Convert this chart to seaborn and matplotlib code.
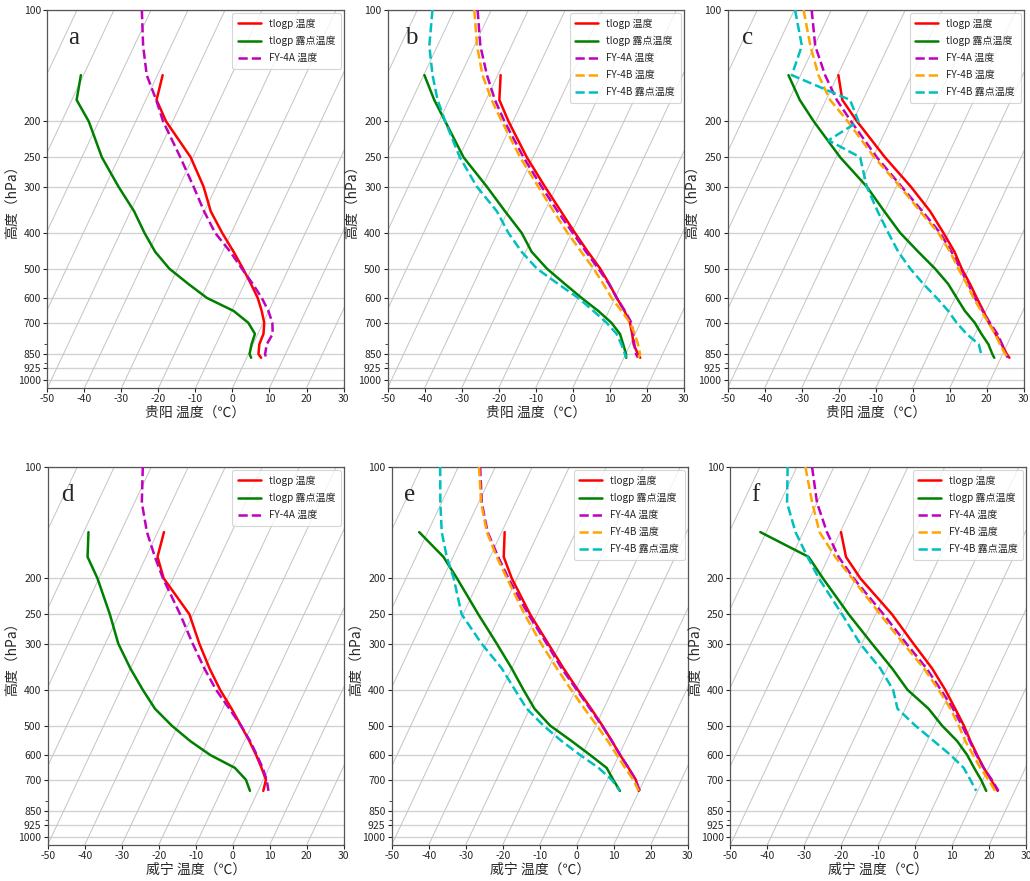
import numpy as np
import pandas as pd
import matplotlib
matplotlib.use("Agg")
import matplotlib.pyplot as plt
import matplotlib.transforms as mtransforms
from matplotlib.ticker import FixedLocator, NullFormatter
import seaborn as sns

# Pressure levels (hPa)
p_gy = [150, 175, 200, 250, 300, 350, 400, 450, 500, 550, 600, 650, 700, 750, 800, 850, 870]
p_gy_fy = [100, 125, 150, 175, 200, 250, 300, 350, 400, 450, 500, 550, 600, 650, 700, 750, 800, 850, 870]
p_c_td = [100, 125, 150, 175, 200, 225, 250, 300, 350, 400, 450, 500, 550, 600, 650, 700, 750, 800, 850]
p_wn = [150, 175, 200, 250, 300, 350, 400, 450, 500, 550, 600, 650, 700, 750]
p_wn_fy = [100, 125, 150, 175, 200, 250, 300, 350, 400, 450, 500, 550, 600, 650, 700, 750]

# Panel a (贵阳)
a_t = [-58.6, -57.1, -51.8, -40.6, -33.4, -28.3, -22.5, -17.0, -12.3, -8.2, -4.6, -1.9, 0.3, 1.5, 1.7, 2.7, 3.9]
a_td = [-80.7, -78.7, -72.7, -64.6, -56.4, -49.0, -43.5, -38.2, -32.2, -25.1, -18.3, -9.5, -4.0, -0.8, -0.4, 0.3, 1.2]
a_4a_t = [-72.5, -67.6, -62.9, -57.2, -52.6, -43.4, -36.1, -30.1, -24.4, -17.9, -12.6, -7.7, -3.5, -0.1, 2.5, 4.0, 3.7, 4.5, 5.2]

# Panel b (贵阳)
b_t = [-59.2, -56.4, -51.2, -41.7, -33.1, -25.6, -19.1, -13.2, -7.7, -3.3, 0.5, 4.2, 7.2, 9.2, 10.9, 13.3, 14.4]
b_td = [-79.8, -74.0, -68.3, -58.8, -48.8, -40.7, -33.5, -28.4, -22.1, -15.3, -9.0, -2.9, 2.2, 5.9, 8.1, 10.1, 10.6]
b_4a_t = [-73.7, -68.4, -62.9, -57.6, -52.3, -42.6, -34.0, -26.5, -19.7, -13.7, -8.2, -3.4, 0.5, 4.3, 7.6, 9.5, 11.1, 12.8, 13.8]
b_4b_t = [-74.6, -69.3, -64.1, -58.5, -53.0, -43.5, -34.9, -27.6, -21.1, -15.0, -9.5, -4.9, -0.9, 3.4, 7.2, 9.9, 12.1, 13.9, 13.9]
b_4b_td = [-85.9, -82.2, -77.6, -73.1, -68.3, -59.8, -51.5, -42.9, -37.1, -31.1, -24.8, -17.1, -9.9, -4.2, 0.9, 5.0, 7.6, 9.8, 10.6]

# Panel c (贵阳)
c_t = [-59.8, -55.6, -48.9, -36.8, -26.1, -17.7, -11.4, -6.0, -1.9, 2.3, 5.9, 9.3, 12.3, 15.5, 18.5, 21.1, 22.3]
c_td = [-73.3, -67.1, -60.6, -48.9, -38.0, -30.1, -23.1, -15.8, -9.1, -3.6, 0.5, 4.3, 8.5, 11.7, 14.9, 17.2, 18.2]
c_4a_t = [-75.3, -69.8, -63.4, -57.1, -50.5, -39.0, -28.6, -19.8, -12.3, -6.8, -2.3, 1.8, 5.4, 9.1, 12.6, 16.0, 18.6, 20.9, 21.9]
c_4b_t = [-77.5, -71.1, -65.2, -58.9, -51.4, -39.7, -29.0, -20.4, -12.8, -7.2, -2.8, 1.4, 5.0, 8.7, 12.2, 15.4, 18.0, 20.7, 21.9]
c_4b_td = [-79.8, -73.4, -72.4, -53.5, -48.5, -54.2, -43.5, -38.0, -31.9, -26.3, -21.2, -15.8, -10.3, -4.9, -0.2, 3.6, 7.7, 12.3, 14.2]

# Panel d (威宁)
d_t = [-58.3, -56.9, -52.5, -41.0, -34.6, -28.7, -23.1, -17.6, -12.9, -8.7, -5.1, -2.0, 0.7, 1.4]
d_td = [-78.7, -75.8, -70.4, -62.5, -56.5, -50.1, -44.0, -38.3, -31.6, -24.7, -17.5, -9.2, -4.7, -2.2]
d_4a_t = [-72.3, -68.0, -62.9, -57.6, -52.7, -43.5, -36.4, -30.1, -24.2, -18.2, -12.9, -8.5, -4.9, -1.7, 0.9, 2.8]

# Panel e (威宁)
e_t = [-59.2, -56.3, -51.4, -41.9, -33.3, -26.0, -19.4, -13.4, -8.2, -3.7, 0.3, 4.2, 7.7, 9.9]
e_td = [-82.3, -72.6, -66.2, -55.9, -47.2, -40.0, -34.1, -28.7, -22.3, -14.6, -7.8, -1.7, 1.6, 4.8]
e_4a_t = [-74.1, -69.1, -63.8, -57.8, -52.3, -42.4, -33.7, -26.5, -19.7, -13.7, -8.3, -3.7, 0.3, 4.2, 7.6, 10.2]
e_4b_t = [-74.4, -69.3, -64.0, -58.2, -52.7, -43.4, -35.2, -27.8, -21.2, -15.2, -9.7, -4.8, -0.6, 3.3, 7.0, 9.9]
e_4b_td = [-84.9, -80.3, -76.2, -71.7, -67.1, -60.4, -51.3, -42.7, -36.4, -30.8, -24.1, -17.3, -10.5, -3.9, 1.2, 4.8]

# Panel f (威宁)
f_t = [-59.8, -55.3, -48.7, -35.6, -26.1, -17.9, -11.6, -6.5, -2.0, 1.7, 5.3, 8.7, 12.2, 15.4]
f_td = [-81.6, -65.4, -58.8, -47.3, -37.3, -28.7, -21.8, -13.7, -7.9, -1.9, 2.6, 6.1, 9.5, 12.3]
f_4a_t = [-75.9, -70.0, -63.6, -57.3, -50.5, -37.9, -28.0, -19.4, -12.8, -7.1, -2.5, 1.5, 5.1, 8.7, 12.4, 15.6]
f_4b_t = [-77.7, -71.3, -65.6, -58.2, -50.9, -38.8, -28.8, -20.1, -13.4, -7.8, -3.4, 0.3, 4.2, 7.8, 11.5, 14.7]
f_4b_td = [-82.5, -78.1, -72.1, -65.7, -59.9, -49.1, -40.5, -31.9, -25.7, -22.1, -15.1, -8.2, -1.9, 3.3, 6.6, 9.6]

yticks = [100, 200, 250, 300, 400, 500, 600, 700, 850, 925, 1000]
xticks = [-50, -40, -30, -20, -10, 0, 10, 20, 30]
isotherms = list(range(-100, 40, 10))

SKEW = 0.6  # isotherm shift over the full height, in axes widths

sns.set_style("white")
plt.rcParams["font.family"] = ["Noto Sans CJK SC", "DejaVu Sans"]
plt.rcParams["axes.unicode_minus"] = False

series_style = {
    "tlogp 温度": dict(color="red", linestyle="-"),
    "tlogp 露点温度": dict(color="green", linestyle="-"),
    "FY-4A 温度": dict(color="m", linestyle="--"),
    "FY-4B 温度": dict(color="orange", linestyle="--"),
    "FY-4B 露点温度": dict(color="c", linestyle="--"),
}

panels = [
    ("a", "贵阳", [("tlogp 温度", p_gy, a_t), ("tlogp 露点温度", p_gy, a_td), ("FY-4A 温度", p_gy_fy, a_4a_t)], 0.07),
    ("b", "贵阳", [("tlogp 温度", p_gy, b_t), ("tlogp 露点温度", p_gy, b_td), ("FY-4A 温度", p_gy_fy, b_4a_t),
                   ("FY-4B 温度", p_gy_fy, b_4b_t), ("FY-4B 露点温度", p_gy_fy, b_4b_td)], 0.06),
    ("c", "贵阳", [("tlogp 温度", p_gy, c_t), ("tlogp 露点温度", p_gy, c_td), ("FY-4A 温度", p_gy_fy, c_4a_t),
                   ("FY-4B 温度", p_gy_fy, c_4b_t), ("FY-4B 露点温度", p_c_td, c_4b_td)], 0.05),
    ("d", "威宁", [("tlogp 温度", p_wn, d_t), ("tlogp 露点温度", p_wn, d_td), ("FY-4A 温度", p_wn_fy, d_4a_t)], 0.045),
    ("e", "威宁", [("tlogp 温度", p_wn, e_t), ("tlogp 露点温度", p_wn, e_td), ("FY-4A 温度", p_wn_fy, e_4a_t),
                   ("FY-4B 温度", p_wn_fy, e_4b_t), ("FY-4B 露点温度", p_wn_fy, e_4b_td)], 0.04),
    ("f", "威宁", [("tlogp 温度", p_wn, f_t), ("tlogp 露点温度", p_wn, f_td), ("FY-4A 温度", p_wn_fy, f_4a_t),
                   ("FY-4B 温度", p_wn_fy, f_4b_t), ("FY-4B 露点温度", p_wn_fy, f_4b_td)], 0.07),
]

# axes positions in figure fraction
positions = [
    [0.0461, 0.5596, 0.2874, 0.4291],
    [0.3764, 0.5596, 0.2874, 0.4291],
    [0.7065, 0.5596, 0.2874, 0.4291],
    [0.0463, 0.0409, 0.2874, 0.4291],
    [0.3803, 0.0409, 0.2874, 0.4291],
    [0.7090, 0.0409, 0.2874, 0.4291],
]

fig = plt.figure(figsize=(10.3, 8.81), dpi=100)

for (letter, station, series, lx), pos in zip(panels, positions):
    ax = fig.add_axes(pos)
    ax.set_yscale("log")
    ax.set_xlim(-50, 30)
    ax.set_ylim(1050, 100)
    ax.set_autoscale_on(False)

    # skewed frame: x shifted by SKEW * height fraction
    shear = mtransforms.Affine2D(np.array([[1.0, SKEW, 0.0], [0.0, 1.0, 0.0], [0.0, 0.0, 1.0]]))
    skew = ax.transScale + ax.transLimits + shear + ax.transAxes

    # Isotherms
    for t in isotherms:
        ax.plot([t, t], [1050, 100], transform=skew, color="#c4c4c4", lw=0.7, zorder=1)

    for name, p, vals in series:
        df = pd.DataFrame({"T": vals, "p": p})
        sns.lineplot(data=df, x="T", y="p", sort=False, estimator=None, ax=ax,
                     transform=skew, label=name, lw=1.8, zorder=3, **series_style[name])

    ax.set_xlim(-50, 30)
    ax.set_ylim(1050, 100)

    ax.yaxis.set_major_locator(FixedLocator(yticks))
    ax.set_yticklabels([str(v) for v in yticks])
    ax.yaxis.set_minor_formatter(NullFormatter())
    ax.set_xticks(xticks)
    ax.yaxis.grid(True, which="major", color="#d2d2d2", lw=1.0)
    ax.xaxis.grid(False)
    ax.tick_params(axis="both", which="major", labelsize=7.5, length=3, width=0.8, direction="out",
                   left=True, bottom=True, pad=1.5)
    ax.tick_params(axis="y", which="minor", length=2, width=0.6, left=True)
    for s in ax.spines.values():
        s.set_color("#555555")
        s.set_linewidth(0.9)

    ax.set_xlabel(station + " 温度（℃）", fontsize=10, labelpad=1)
    ax.set_ylabel("高度（hPa）", fontsize=10, labelpad=-1)

    leg = ax.legend(loc="upper right", fontsize=7.2, frameon=True, handlelength=2.3,
                    borderpad=0.55, labelspacing=0.7, borderaxespad=0.3)
    leg.get_frame().set_edgecolor("#cccccc")
    leg.get_frame().set_linewidth(0.8)

    ax.text(lx, 0.925, letter, transform=ax.transAxes, fontsize=18,
            family="Liberation Serif", va="center", ha="left", zorder=5)

fig.savefig("out.png", dpi=100)
